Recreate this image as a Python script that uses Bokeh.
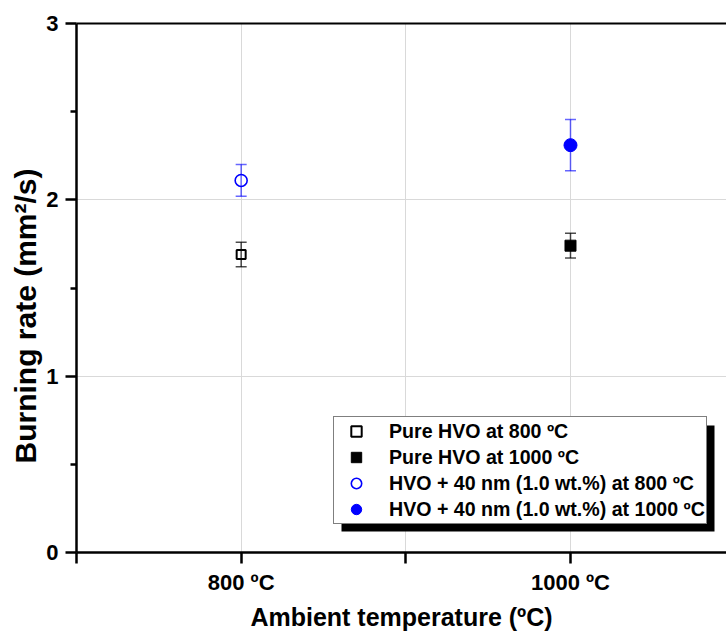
from bokeh.plotting import figure
from bokeh.models import (ColumnDataSource, FixedTicker, LinearAxis, Legend, LegendItem,
                          Whisker, TeeHead, BoxAnnotation, Range1d, Title)
from bokeh.embed import file_html
from bokeh.resources import INLINE

# ---- data ----
temps = ["800 ºC", "1000 ºC"]
pure_hvo = [1.69, 1.74]
pure_hvo_err = [0.07, 0.07]
hvo_40nm = [2.11, 2.31]
hvo_40nm_err = [0.09, 0.145]
series_labels = ["Pure HVO at 800 ºC", "Pure HVO at 1000 ºC",
                 "HVO + 40 nm (1.0 wt.%) at 800 ºC", "HVO + 40 nm (1.0 wt.%) at 1000 ºC"]
y_ticks = [0, 1, 2, 3]
y_minor = [0.5, 1.5, 2.5]
x_title = "Ambient temperature (ºC)"
y_title = "Burning rate (mm²/s)"

xpos = [i + 1 for i in range(len(temps))]
FONT = "Liberation Sans"

p = figure(width=726, height=634, output_backend="svg", toolbar_location=None,
           x_range=Range1d(0.5, 2.4737), y_range=Range1d(0, 3),
           min_border_left=76, min_border_right=0, min_border_top=23, min_border_bottom=82)
p.outline_line_color = None
p.background_fill_color = "white"
p.border_fill_color = "white"

# axes
xt = [0.5] + [v for x in xpos for v in (x, x + 0.5)]
xt = [t for t in xt if t < 2.47]
p.xaxis.ticker = FixedTicker(ticks=xt)
p.xaxis.major_label_overrides = {t: "" for t in xt}
p.xaxis.major_label_overrides.update({x: lab for x, lab in zip(xpos, temps)})
p.yaxis.ticker = FixedTicker(ticks=y_ticks, minor_ticks=y_minor)

for ax in (p.xaxis[0], p.yaxis[0]):
    ax.axis_line_width = 2.5
    ax.axis_line_color = "black"
    ax.major_tick_line_width = 2.5
    ax.major_tick_line_color = "black"
    ax.major_tick_in = 0
    ax.major_label_text_font = FONT
    ax.major_label_text_font_style = "bold"
    ax.major_label_text_font_size = "22px"
    ax.major_label_text_color = "black"
    ax.axis_label_text_font = FONT
    ax.axis_label_text_font_style = "bold"
    ax.axis_label_text_font_size = "25px"
    ax.axis_label_text_color = "black"

p.xaxis.major_tick_out = 11
p.xaxis.minor_tick_line_color = None
p.xaxis.major_label_standoff = 6
p.xaxis.axis_label = x_title
p.xaxis.axis_label_standoff = 5

p.yaxis.major_tick_out = 11
p.yaxis.minor_tick_out = 6
p.yaxis.minor_tick_in = 0
p.yaxis.minor_tick_line_width = 2.5
p.yaxis.minor_tick_line_color = "black"
p.yaxis.major_label_standoff = 7

# y title: a left-side title, starting slightly below the frame centre like the reference
p.add_layout(Title(text=y_title, align="left", offset=89, standoff=4,
                   text_font=FONT, text_font_style="bold", text_font_size="30px",
                   text_color="black"), "left")

top_axis = LinearAxis(ticker=FixedTicker(ticks=[]), axis_line_width=2, axis_line_color="black",
                      major_tick_line_color=None, minor_tick_line_color=None,
                      major_label_text_font_size="0px")
p.add_layout(top_axis, "above")

p.xgrid.ticker = FixedTicker(ticks=xt)
p.ygrid.ticker = FixedTicker(ticks=y_ticks)
for g in (p.xgrid[0], p.ygrid[0]):
    g.grid_line_color = "#d9d9d9"
    g.grid_line_width = 1

# error bars
pure_src = ColumnDataSource(dict(x=xpos, y=pure_hvo,
                                 lo=[v - e for v, e in zip(pure_hvo, pure_hvo_err)],
                                 hi=[v + e for v, e in zip(pure_hvo, pure_hvo_err)]))
nano_src = ColumnDataSource(dict(x=xpos, y=hvo_40nm,
                                 lo=[v - e for v, e in zip(hvo_40nm, hvo_40nm_err)],
                                 hi=[v + e for v, e in zip(hvo_40nm, hvo_40nm_err)]))
for src, col, alpha in ((pure_src, "black", 0.7), (nano_src, "blue", 0.6)):
    w = Whisker(source=src, base="x", upper="hi", lower="lo", dimension="height",
                line_color=col, line_alpha=alpha, line_width=1.5,
                upper_head=TeeHead(size=11, line_color=col, line_alpha=alpha, line_width=1.5),
                lower_head=TeeHead(size=11, line_color=col, line_alpha=alpha, line_width=1.5))
    w.level = "glyph"
    p.add_layout(w)

# markers: one renderer per legend entry
r1 = p.scatter([xpos[0]], [pure_hvo[0]], marker="square", size=9, line_width=2,
               line_color="black", fill_color="white")
r2 = p.scatter([xpos[1]], [pure_hvo[1]], marker="square", size=11, line_width=1,
               line_color="black", fill_color="black")
r3 = p.scatter([xpos[0]], [hvo_40nm[0]], marker="circle", size=12, line_width=1.6,
               line_color="blue", fill_color="white")
r4 = p.scatter([xpos[1]], [hvo_40nm[1]], marker="circle", size=13, line_width=1,
               line_color="blue", fill_color="blue")

# legend shadow + legend
shadow = BoxAnnotation(left=265, right=638, top=127, bottom=21,
                       left_units="screen", right_units="screen",
                       top_units="screen", bottom_units="screen",
                       fill_color="black", fill_alpha=1, line_color=None)
p.add_layout(shadow)

legend = Legend(items=[LegendItem(label=l, renderers=[r]) for l, r in zip(series_labels, [r1, r2, r3, r4])],
                location=(257, 28), margin=0, padding=1, spacing=-2,
                glyph_width=42, glyph_height=26, label_height=20, label_standoff=12,
                label_text_font=FONT, label_text_font_style="bold", label_text_font_size="19.6px",
                label_text_color="black",
                border_line_color="black", border_line_width=1,
                background_fill_color="white", background_fill_alpha=1)
p.add_layout(legend, "center")

open("out.html", "w").write(file_html(p, INLINE))
